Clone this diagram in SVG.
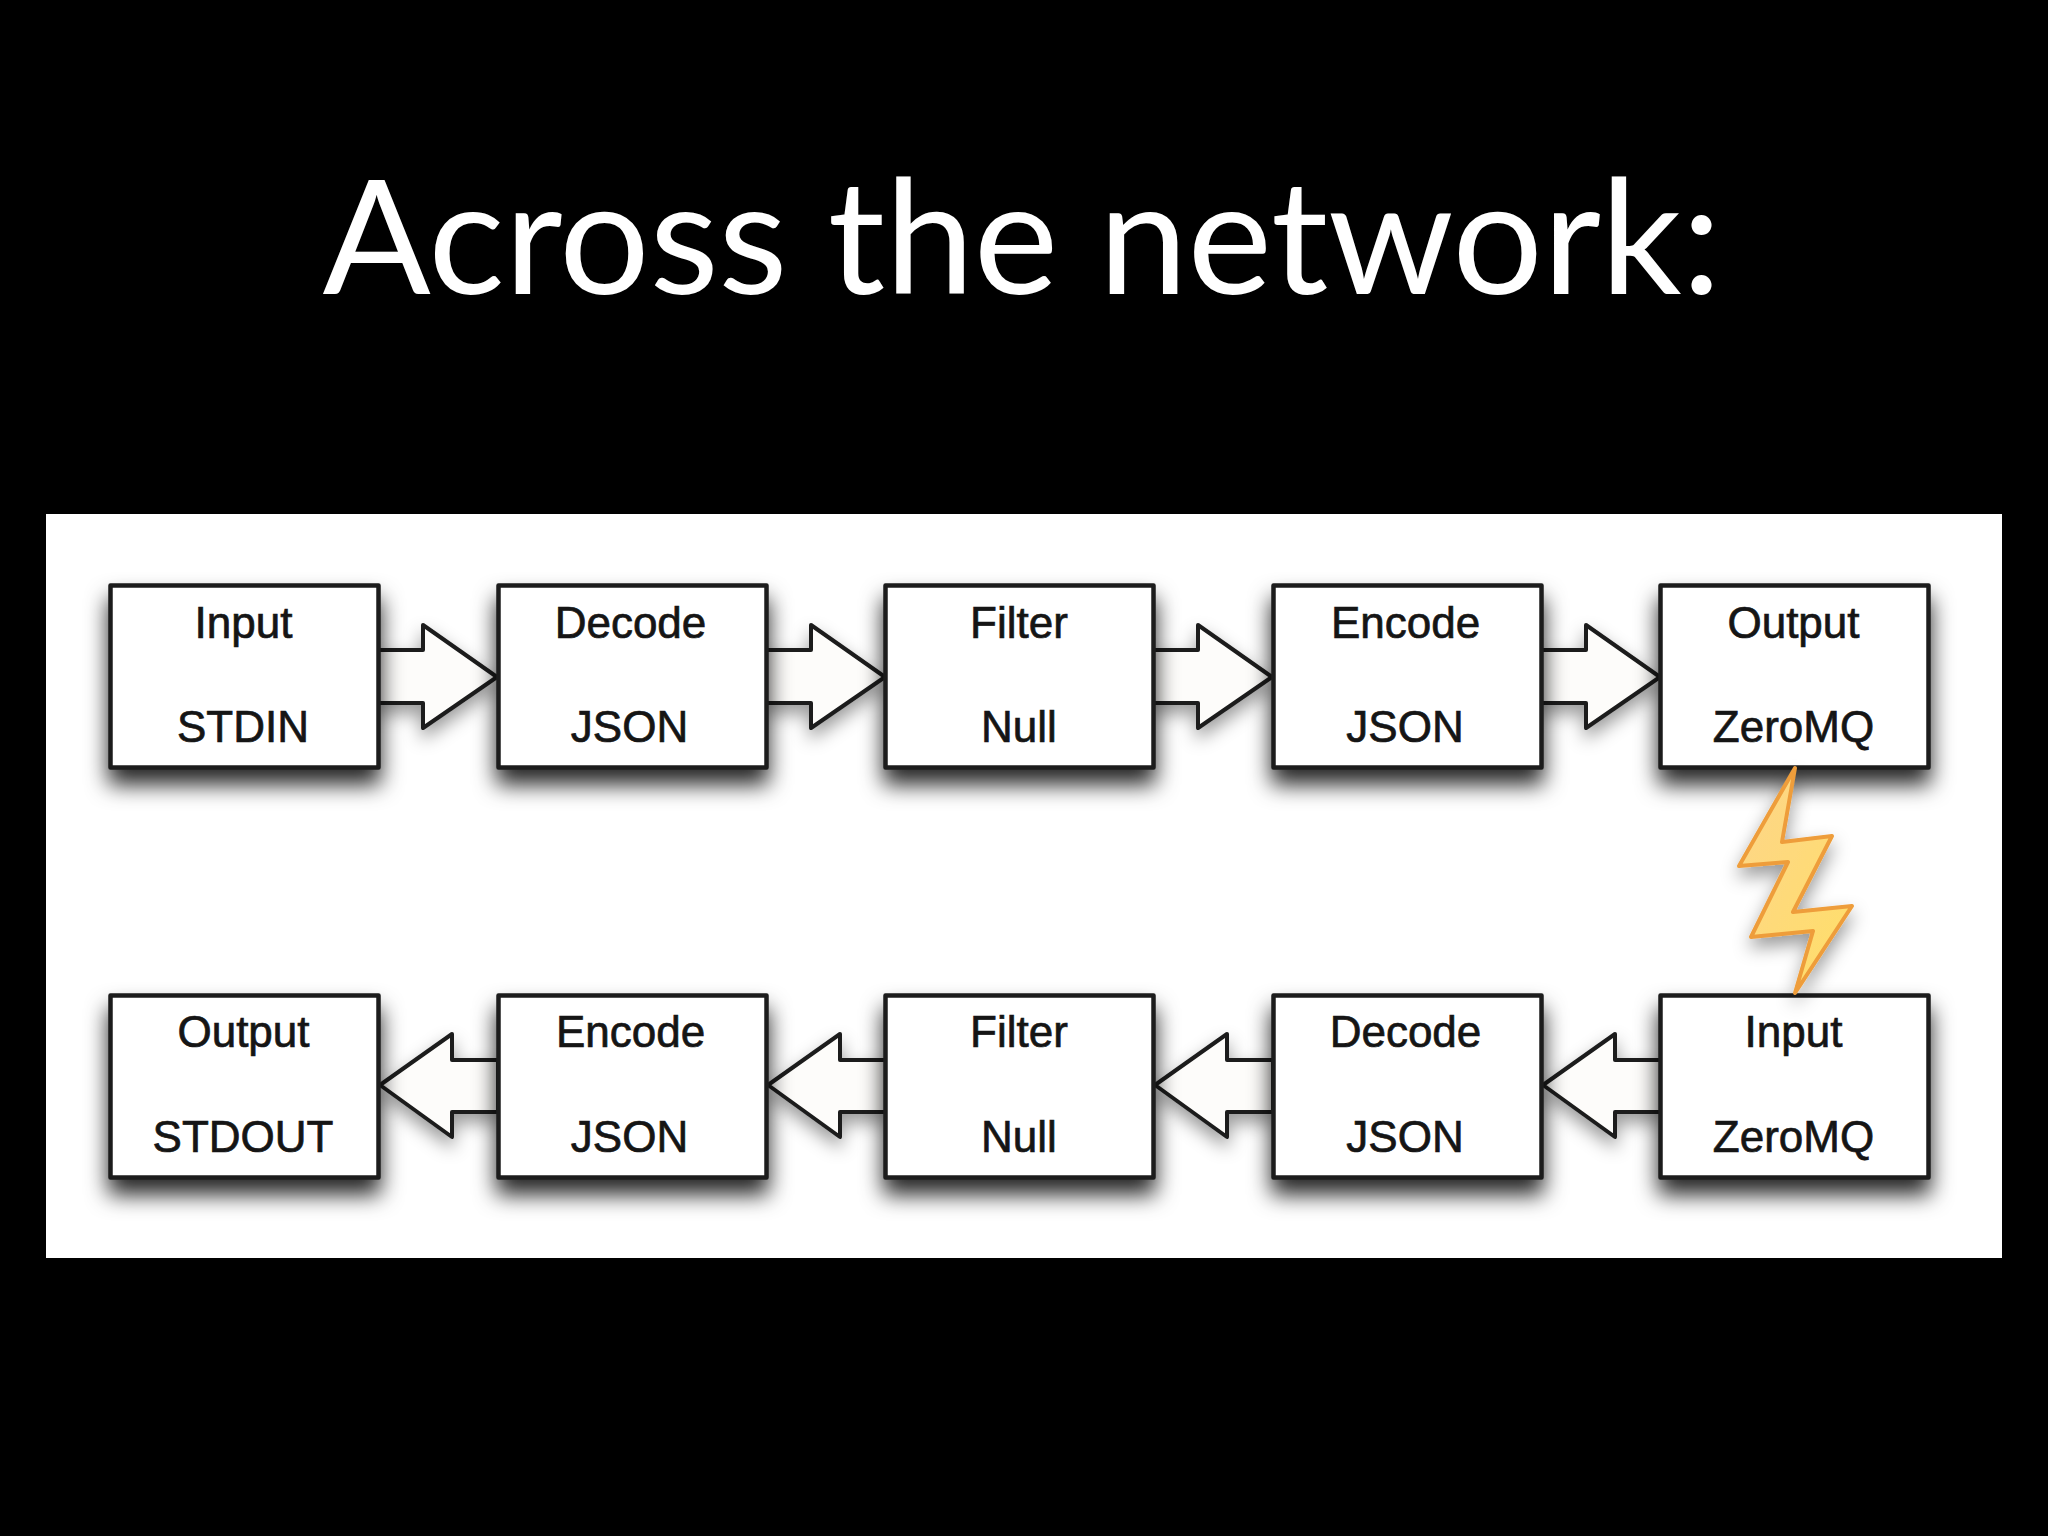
<svg xmlns="http://www.w3.org/2000/svg" width="2048" height="1536" viewBox="0 0 2048 1536">
<defs>
<filter id="sh" x="-20%" y="-20%" width="140%" height="170%"><feDropShadow dx="0" dy="15" stdDeviation="11" flood-color="#000" flood-opacity="0.85"/></filter>
<filter id="shA" x="-20%" y="-20%" width="140%" height="150%"><feDropShadow dx="0" dy="9" stdDeviation="9" flood-color="#000" flood-opacity="0.4"/></filter>
<linearGradient id="bolt" x1="0" y1="0" x2="1" y2="1"><stop offset="0" stop-color="#fdd58a"/><stop offset="1" stop-color="#ffdf68"/></linearGradient>
<rect id="box" width="268" height="182" fill="#fff" stroke="#1c1c1c" stroke-width="4.5" stroke-linejoin="round"/>
<path id="ar" d="M0 65H45V40L119 92 45 143V118H0Z" fill="#fdfcfa" stroke="#1c1c1c" stroke-width="4" stroke-linejoin="round"/>
<path id="al" d="M118 65H72V39L0 90 72 142V117H118Z" fill="#fdfcfa" stroke="#1c1c1c" stroke-width="4" stroke-linejoin="round"/>
</defs>
<style>
.t{font-family:"Liberation Sans",Arial,sans-serif;font-size:44px;fill:#151515;stroke:#151515;stroke-width:0.7px;text-anchor:middle}
</style>
<rect id="background" width="2048" height="1536" fill="#000"/>
<text id="title" x="1022" y="294" font-family="Lato,sans-serif" font-size="160" fill="#fff" text-anchor="middle" textLength="1399" lengthAdjust="spacing">Across the network:</text>
<rect id="panel" x="46" y="514" width="1956" height="744" fill="#fff"/>
<g id="connectors">
<use href="#ar" x="378" y="585" filter="url(#shA)"/>
<use href="#ar" x="766" y="585" filter="url(#shA)"/>
<use href="#ar" x="1153" y="585" filter="url(#shA)"/>
<use href="#ar" x="1541" y="585" filter="url(#shA)"/>
<use href="#al" x="380" y="995" filter="url(#shA)"/>
<use href="#al" x="768" y="995" filter="url(#shA)"/>
<use href="#al" x="1155" y="995" filter="url(#shA)"/>
<use href="#al" x="1543" y="995" filter="url(#shA)"/>
</g>
<g id="n1"><use href="#box" x="110.5" y="585.5" filter="url(#sh)"/><text class="t" x="243.5" y="638">Input</text><text class="t" x="243" y="742">STDIN</text></g>
<g id="n2"><use href="#box" x="498.5" y="585.5" filter="url(#sh)"/><text class="t" x="630.5" y="638">Decode</text><text class="t" x="629.5" y="742">JSON</text></g>
<g id="n3"><use href="#box" x="885.5" y="585.5" filter="url(#sh)"/><text class="t" x="1019" y="638">Filter</text><text class="t" x="1019" y="742">Null</text></g>
<g id="n4"><use href="#box" x="1273.5" y="585.5" filter="url(#sh)"/><text class="t" x="1405.5" y="638">Encode</text><text class="t" x="1405" y="742">JSON</text></g>
<g id="n5"><use href="#box" x="1660.5" y="585.5" filter="url(#sh)"/><text class="t" x="1793.5" y="638">Output</text><text class="t" x="1793.5" y="742">ZeroMQ</text></g>
<g id="n6"><use href="#box" x="110.5" y="995.5" filter="url(#sh)"/><text class="t" x="243.5" y="1047">Output</text><text class="t" x="243" y="1152">STDOUT</text></g>
<g id="n7"><use href="#box" x="498.5" y="995.5" filter="url(#sh)"/><text class="t" x="630.5" y="1047">Encode</text><text class="t" x="629.5" y="1152">JSON</text></g>
<g id="n8"><use href="#box" x="885.5" y="995.5" filter="url(#sh)"/><text class="t" x="1019" y="1047">Filter</text><text class="t" x="1019" y="1152">Null</text></g>
<g id="n9"><use href="#box" x="1273.5" y="995.5" filter="url(#sh)"/><text class="t" x="1405.5" y="1047">Decode</text><text class="t" x="1405" y="1152">JSON</text></g>
<g id="n10"><use href="#box" x="1660.5" y="995.5" filter="url(#sh)"/><text class="t" x="1793.5" y="1047">Input</text><text class="t" x="1793.5" y="1152">ZeroMQ</text></g>
<g id="bolt-link"><path d="M1795 768 1782 842 1832 836 1793 912 1852 906 1795 993 1813 931 1751 937 1788 862 1739 866Z" fill="url(#bolt)" stroke="#ee9d3a" stroke-width="4" stroke-linejoin="round" filter="url(#shA)"/></g>
</svg>
